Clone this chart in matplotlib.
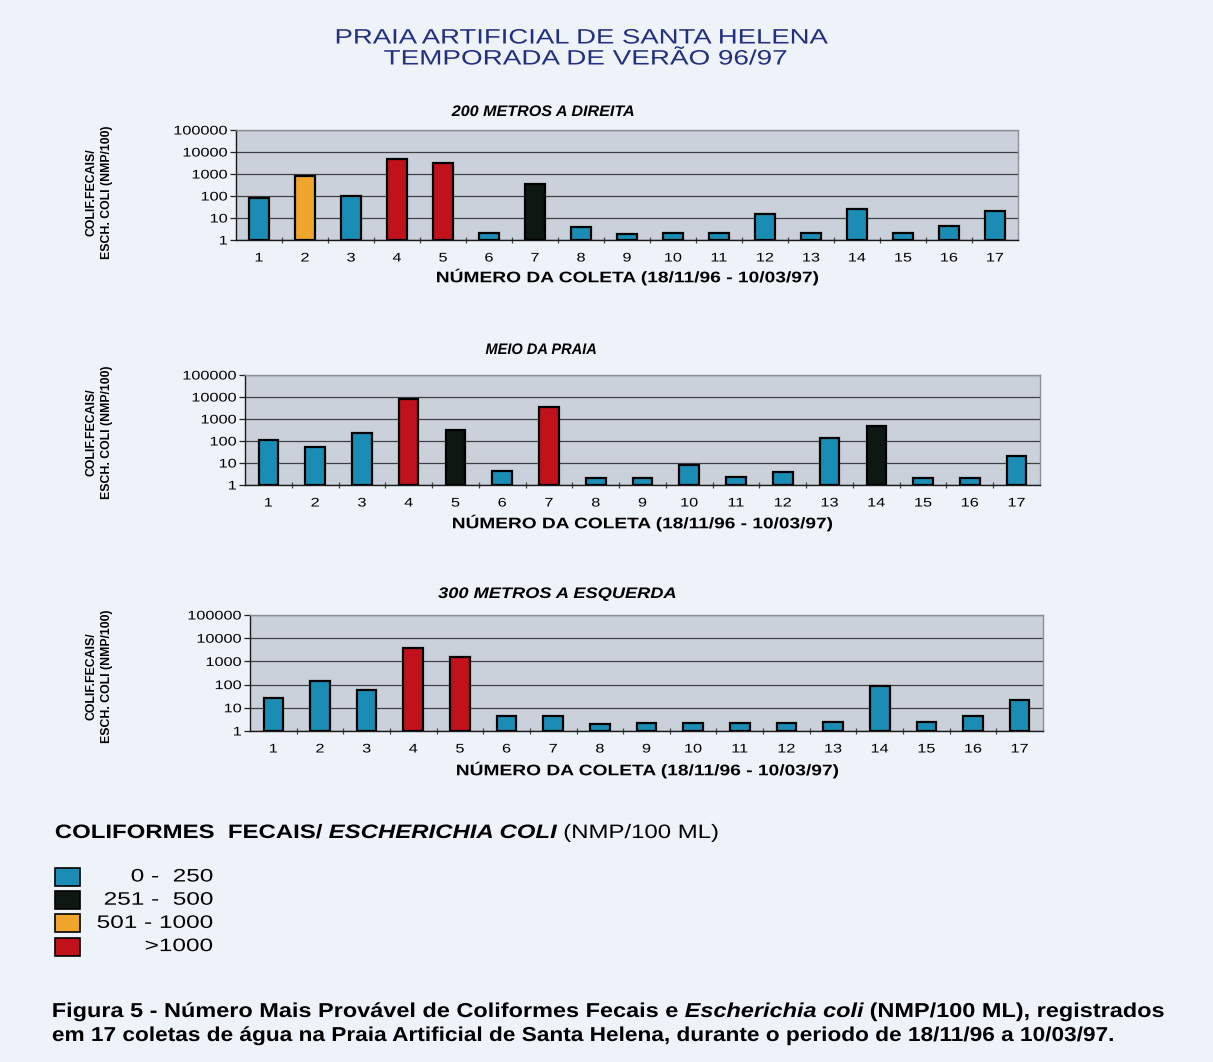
import numpy as np
import matplotlib
matplotlib.use("Agg")
import matplotlib.pyplot as plt
from matplotlib.patheffects import AbstractPathEffect
from matplotlib.transforms import Affine2D
from matplotlib.patches import Rectangle
from matplotlib import font_manager

# ---------------------------------------------------------------- data
coletas = list(range(1, 18))
direita_200m = [85, 800, 95, 5000, 3300, 2.0, 350, 4.0, 1.9, 2.0, 2.0,
                16, 2.0, 27, 2.0, 4.2, 21]
meio_praia = [115, 55, 235, 8500, 330, 4.5, 3400, 2.0, 2.1, 8.0, 2.2,
              4.0, 130, 490, 2.0, 2.1, 21]
esquerda_300m = [26, 148, 58, 3700, 1550, 4.4, 4.5, 2.1, 2.2, 2.2, 2.3,
                 2.3, 2.4, 85, 2.4, 4.3, 22]

painel_titulos = ["200 METROS A DIREITA", "MEIO DA PRAIA", "300 METROS A ESQUERDA"]
classes = ["0 -  250", "251 -  500", "501 - 1000", ">1000"]
limites_classe = [250, 500, 1000]
cores_classe = ["#1b8db4", "#0d1812", "#f0a52c", "#c1121c"]
y_ticks = [1, 10, 100, 1000, 10000, 100000]

W, H, DPI = 1213, 1062, 100
plt.rcParams["font.family"] = ["Liberation Sans", "DejaVu Sans"]

_nomes = {f.name for f in font_manager.fontManager.ttflist}
FONTE_LEGENDA = (["Liberation Sans Narrow", "Liberation Sans"]
                 if "Liberation Sans Narrow" in _nomes else ["Liberation Sans"])


class Esticar(AbstractPathEffect):
    """Horizontally stretch text glyphs about an anchor of the text line."""

    def __init__(self, sx=1.0, width=None, anchor="center"):
        super().__init__()
        self.sx = sx
        self.width = width
        self.anchor = anchor

    def draw_path(self, renderer, gc, tpath, affine, rgbFace=None):
        ext = tpath.get_extents()
        sx = self.sx
        if self.width is not None:
            m = affine.get_matrix()
            escala = np.hypot(m[0, 0], m[1, 0])
            natural = (ext.x1 - ext.x0) * escala
            if natural > 0:
                sx = self.width / natural
        a = {"left": ext.x0, "center": 0.5 * (ext.x0 + ext.x1),
             "right": ext.x1}[self.anchor]
        t = Affine2D().translate(-a, 0).scale(sx, 1).translate(a, 0)
        renderer.draw_path(gc, tpath, t + affine, rgbFace)


fig = plt.figure(figsize=(W / DPI, H / DPI), dpi=DPI)
fig.patch.set_facecolor("#eef2f9")


def fx(x):
    return x / W


def fy(y):
    return 1 - y / H


def texto(x, y, s, width=None, sx=1.0, anchor="center", va="center", **kw):
    t = fig.text(fx(x), fy(y), s, ha=anchor, va=va, **kw)
    t.set_path_effects([Esticar(sx=sx, width=width, anchor=anchor)])
    return t


def linha_mista(x0, y, partes, largura, size, family=None):
    """Draw a baseline-aligned run of differently styled pieces fitted to a width."""
    r = fig.canvas.get_renderer()
    objs, larg = [], []
    for s, estilo in partes:
        kw = dict(estilo)
        if family is not None:
            kw["family"] = family
        t = fig.text(fx(x0), fy(y), s, ha="left", va="baseline", size=size, **kw)
        objs.append(t)
        larg.append(t.get_window_extent(r).width)
    gap = 0.25 * size * DPI / 72
    total = sum(larg) + gap * (len(partes) - 1)
    sx = largura / total
    x = x0
    for t, w in zip(objs, larg):
        t.set_x(fx(x))
        t.set_path_effects([Esticar(sx=sx, anchor="left")])
        x += (w + gap) * sx


# ---------------------------------------------------------------- title
azul_titulo = "#22307f"
texto(582, 38, "PRAIA ARTIFICIAL DE SANTA HELENA", width=491, size=15, color=azul_titulo)
texto(586, 59, "TEMPORADA DE VERÃO 96/97", width=402, size=15, color=azul_titulo)

# ---------------------------------------------------------------- panels
paineis = [
    (direita_200m, (236, 130, 1018, 240), (543, 112, 182), (627, 277, 381), 192),
    (meio_praia, (245, 375, 1040, 485), (541, 350, 110), (642, 523, 379), 432),
    (esquerda_300m, (250, 615, 1043, 731), (557, 594, 237), (647, 770, 381), 676),
]

for (valores, (l, t, r, b), (tx, ty, tw), (lx, ly, lw), ylab), titulo in zip(paineis, painel_titulos):
    ax = fig.add_axes([fx(l), fy(b), (r - l) / W, (b - t) / H])
    ax.set_facecolor("#cbd1da")
    ax.set_yscale("log")
    ax.set_ylim(1, 100000)
    ax.set_xlim(0.5, 17.5)
    ax.minorticks_off()

    v = np.asarray(valores, dtype=float)
    cores = [cores_classe[i] for i in np.digitize(v, limites_classe, right=True)]
    ax.bar(coletas, v - 1, bottom=1, width=0.42, color=cores,
           edgecolor="black", linewidth=1.6, zorder=3)

    ax.set_yticks(y_ticks, labels=[str(k) for k in y_ticks])
    ax.set_xticks(coletas, labels=[str(c) for c in coletas])
    ax.set_xticks(np.arange(1.5, 17.5, 1.0), minor=True)
    ax.yaxis.grid(True, color="#3c3f44", linewidth=0.9)
    ax.set_axisbelow(True)

    ax.tick_params(axis="y", length=4, width=0.9, pad=2, labelsize=9, color="#222")
    ax.tick_params(axis="x", which="major", length=0, pad=9, labelsize=9)
    ax.tick_params(axis="x", which="minor", length=4, width=0.9,
                   direction="inout", color="#444")
    for lab in ax.get_yticklabels():
        lab.set_path_effects([Esticar(sx=1.3, anchor="right")])
    for lab in ax.get_xticklabels():
        lab.set_path_effects([Esticar(sx=1.3, anchor="center")])

    for s in ("left", "bottom"):
        ax.spines[s].set_color("#1a1a1a")
        ax.spines[s].set_linewidth(1.0)
    for s in ("top", "right"):
        ax.spines[s].set_color("#8c9098")
        ax.spines[s].set_linewidth(1.0)

    texto(tx, ty, titulo, width=tw, size=11, weight="bold", style="italic")
    texto(lx, ly, "NÚMERO DA COLETA (18/11/96 - 10/03/97)", width=lw,
          size=11, weight="bold")
    fig.text(fx(99), fy(ylab), "COLIF.FECAIS/\nESCH. COLI (NMP/100)", rotation=90,
             ha="center", va="center", size=8.8, weight="bold", linespacing=1.4)

# ---------------------------------------------------------------- legend
linha_mista(55, 838, [("COLIFORMES  FECAIS/", {"weight": "bold"}),
                      ("ESCHERICHIA COLI", {"weight": "bold", "style": "italic"}),
                      ("(NMP/100 ML)", {})], 665, 14)

for k, (rotulo, cor) in enumerate(zip(classes, cores_classe)):
    yc = 877 + k * 23.2
    fig.add_artist(Rectangle((fx(55), fy(yc + 9)), 25 / W, 18 / H,
                             transform=fig.transFigure, facecolor=cor,
                             edgecolor="black", linewidth=1.2))
    texto(213, yc, rotulo, sx=1.35, anchor="right", size=13)

# ---------------------------------------------------------------- caption
linha_mista(52, 1017, [("Figura 5 - Número Mais Provável de Coliformes Fecais e", {"weight": "bold"}),
                       ("Escherichia coli", {"weight": "bold", "style": "italic"}),
                       ("(NMP/100 ML), registrados", {"weight": "bold"})], 1113, 14.5,
            family=FONTE_LEGENDA)
linha_mista(52, 1041, [("em 17 coletas de água na Praia Artificial de Santa Helena, "
                        "durante o periodo de 18/11/96 a 10/03/97.", {"weight": "bold"})],
            1063, 14.5, family=FONTE_LEGENDA)

fig.savefig("out.png", dpi=DPI, facecolor=fig.get_facecolor())
